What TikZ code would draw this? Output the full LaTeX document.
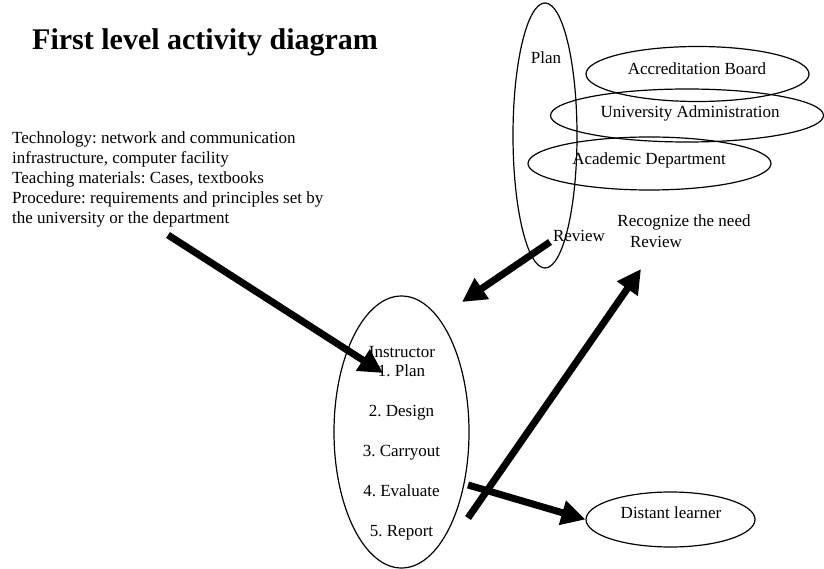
\documentclass[tikz,border=0pt]{standalone}
\usepackage{fontspec}
\setmainfont{Liberation Serif}
\usetikzlibrary{shapes.geometric,arrows.meta}
\frenchspacing

\begin{document}
\begin{tikzpicture}[x=1pt,y=-1pt,
		ellisse/.style={ellipse, draw, line width=1.2pt, inner sep=0pt},
		testo/.style={font=\fontsize{17}{20}\selectfont, inner sep=0pt, anchor=base},
		freccia/.style={line width=7pt, -{Triangle[length=24pt,width=24pt]}}]
		\useasboundingbox (0,0) rectangle (824,569);

		% Titolo e risorse
		\node[anchor=base west, inner sep=0pt, font=\bfseries\fontsize{30}{36}\selectfont] (T) at (32,49.5) {First level activity diagram};
		\node[testo, anchor=north west, align=left] (R) at (12,132) {Technology: network and communication\\infrastructure, computer facility\\Teaching materials: Cases, textbooks\\Procedure: requirements and principles set by\\the university or the department};

		% Plan - Review
		\node[ellisse, minimum width=64pt, minimum height=265pt] (P) at (545,135.5) {};
		\node[ellisse, minimum width=223pt, minimum height=55pt] (AB) at (697.5,74) {};
		\node[ellisse, minimum width=273pt, minimum height=53pt] (UA) at (687,115.5) {};
		\node[ellisse, minimum width=243pt, minimum height=53pt] (AD) at (649.5,163.5) {};
		\node[testo] (P1) at (546,64) {Plan};
		\node[testo] (AB1) at (697,75) {Accreditation Board};
		\node[testo] (UA1) at (690,118) {University Administration};
		\node[testo] (AD1) at (649,165) {Academic Department};
		\node[testo] (P2) at (579,242) {Review};
		\node[testo] (RN) at (684,227) {Recognize the need};
		\node[testo] (RV) at (656,247.5) {Review};

		% Instructor
		\node[ellisse, minimum width=135pt, minimum height=272pt] (I) at (401.5,432) {};
		\node[testo] (I0) at (402,357) {Instructor};
		\node[testo] (I1) at (401.5,376) {1. Plan};
		\node[testo] (I2) at (401.5,416) {2. Design};
		\node[testo] (I3) at (401.5,456) {3. Carryout};
		\node[testo] (I4) at (401.5,496) {4. Evaluate};
		\node[testo] (I5) at (401.5,536) {5. Report};

		% Distant learner
		\node[ellisse, minimum width=169pt, minimum height=55pt] (DL) at (670.5,519.5) {};
		\node[testo] (DL1) at (671,518) {Distant learner};

		% Frecce
		\coordinate (a1) at (168,235);
		\coordinate (a2) at (383,373);
		\coordinate (b1) at (550,242);
		\coordinate (b2) at (462,302);
		\coordinate (c1) at (468,518);
		\coordinate (c2) at (641,269);
		\coordinate (d1) at (468,485);
		\draw[freccia] (a1) -- (a2);
		\draw[freccia] (b1) -- (b2);
		\draw[freccia] (c1) -- (c2);
		\draw[freccia] (d1) -- (DL.west);
	\end{tikzpicture}
\end{document}
